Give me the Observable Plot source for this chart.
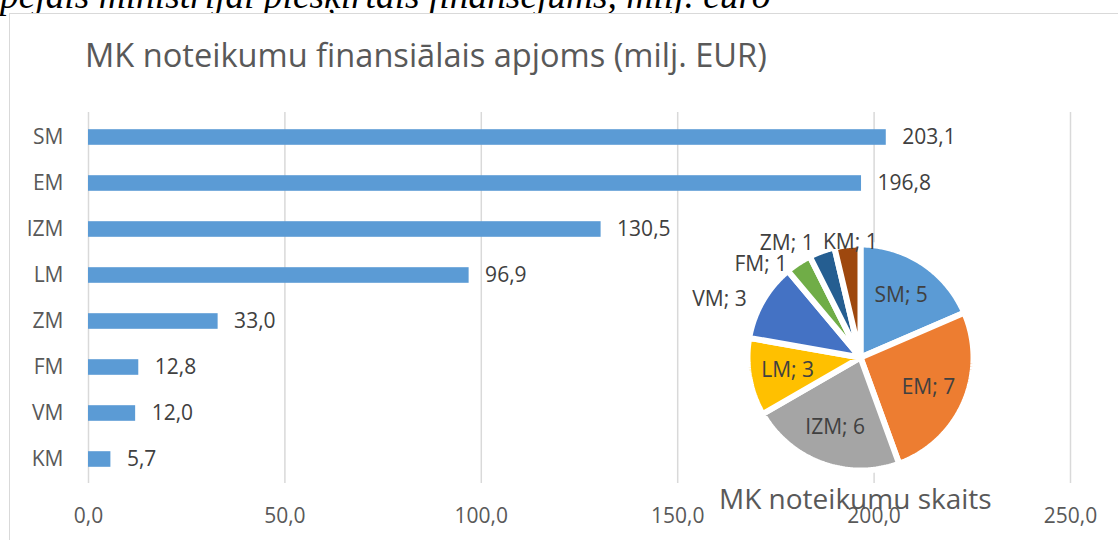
<!DOCTYPE html>
<html>
<head>
<meta charset="utf-8">
<script src="https://cdn.jsdelivr.net/npm/d3@7"></script>
<script src="https://cdn.jsdelivr.net/npm/@observablehq/plot@0.6"></script>
<style>
  html, body { margin: 0; padding: 0; background: #fff; }
  #wrap { position: relative; width: 1118px; height: 540px; overflow: hidden; }
  #header { position: absolute; left: 0; top: -23px; white-space: nowrap;
    font-family: "Liberation Serif", "Times New Roman", serif; font-style: italic;
    font-size: 37.4px; line-height: 37.4px; color: #000; }
  #box { position: absolute; left: 9px; top: 13px; width: 1200px; height: 600px;
    background: #fff; border: 1.5px solid #d9d9d9; }
  #title { position: absolute; left: 85px; top: 39px; white-space: nowrap;
    font-family: "Open Sans", sans-serif; font-size: 32.6px; line-height: 32.6px; color: #595959; }
  #pieTitle { position: absolute; left: 719px; top: 484px; white-space: nowrap;
    font-family: "Open Sans", sans-serif; font-size: 28px; line-height: 28px; color: #595959; z-index: 5; }
  #bars { position: absolute; left: 0; top: 0; }
  #pie { position: absolute; left: 660px; top: 187px; }
</style>
</head>
<body>
<div id="wrap">
  <div id="header">pējais ministrijai piešķirtais finansējums, milj. euro</div>
  <div id="box"></div>
  <div id="title">MK noteikumu finansiālais apjoms (milj. EUR)</div>
  <div id="bars"></div>
  <div id="pie"></div>
  <div id="pieTitle">MK noteikumu skaits</div>
</div>
<script>
// ---- data ----
const categories = ["SM", "EM", "IZM", "LM", "ZM", "FM", "VM", "KM"];
const amounts = [203.1, 196.8, 130.5, 96.9, 33.0, 12.8, 12.0, 5.7];
const xTicks = [0, 50, 100, 150, 200, 250];

const pieCategories = ["SM", "EM", "IZM", "LM", "VM", "FM", "ZM", "KM"];
const pieCounts = [5, 7, 6, 3, 3, 1, 1, 1];
const outsideLabels = ["VM", "FM", "ZM", "KM"];
const palette = ["#5B9BD5", "#ED7D31", "#A5A5A5", "#FFC000", "#4472C4", "#70AD47", "#255E91", "#9E480E"];

const fmt = d => d.toFixed(1).replace(".", ",");

// ---- bar chart ----
const barRows = categories.map((name, i) => ({name, value: amounts[i]}));
const bars = Plot.plot({
  width: 1118,
  height: 540,
  marginLeft: 88,
  marginRight: 48,
  marginTop: 112,
  marginBottom: 57,
  style: {fontFamily: "Open Sans, sans-serif", fontSize: "21px", color: "#595959", background: "transparent", overflow: "visible"},
  x: {domain: [0, 250]},
  y: {domain: categories, padding: 0},
  marks: [
    Plot.gridX(xTicks, {stroke: "#d9d9d9", strokeOpacity: 1, strokeWidth: 1.5}),
    Plot.axisX(xTicks, {tickSize: 0, tickPadding: 25, tickFormat: fmt, label: null, fill: "#595959"}),
    Plot.axisY({tickSize: 0, tickPadding: 25, label: null, fill: "#595959"}),
    Plot.barX(barRows, {x: "value", y: "name", fill: "#5B9BD5", insetTop: 15.2, insetBottom: 15.2}),
    Plot.text(barRows, {x: "value", y: "name", text: d => fmt(d.value), dx: 16, textAnchor: "start", fill: "#404040"})
  ]
});
document.getElementById("bars").append(bars);

// ---- pie chart ----
const R = 113;
const arcs = d3.pie().sort(null)(pieCounts);
const slicePts = [];
const labels = [];
arcs.forEach((a, i) => {
  const name = pieCategories[i];
  const N = 60;
  slicePts.push({name, x: 0, y: 0});
  for (let k = 0; k <= N; k++) {
    const t = a.startAngle + (a.endAngle - a.startAngle) * k / N;
    slicePts.push({name, x: R * Math.sin(t), y: -R * Math.cos(t)});
  }
  slicePts.push({name, x: 0, y: 0});
  const mid = (a.startAngle + a.endAngle) / 2;
  const outside = outsideLabels.includes(name);
  const kind = !outside ? "in" : (Math.sin(mid) < -0.3 ? "end" : "mid");
  const r = kind === "in" ? 74 : kind === "end" ? 128 : 122;
  labels.push({
    name, text: `${name}; ${pieCounts[i]}`,
    x: r * Math.sin(mid), y: -r * Math.cos(mid),
    kind
  });
});
// simple collision avoidance for the outside labels on the left: keep a minimum line gap
const leftLabels = labels.filter(d => d.kind === "end").sort((a, b) => a.y - b.y);
for (let i = 1; i < leftLabels.length; i++) {
  if (leftLabels[i].y < leftLabels[i - 1].y + 21) leftLabels[i].y = leftLabels[i - 1].y + 21;
}

const pie = Plot.plot({
  width: 400,
  height: 340,
  margin: 0,
  style: {fontFamily: "Open Sans, sans-serif", fontSize: "21px", background: "transparent", overflow: "visible"},
  x: {domain: [-200, 200], axis: null},
  y: {domain: [-170, 170], range: [0, 340], axis: null},
  color: {domain: pieCategories, range: palette},
  marks: [
    Plot.line(slicePts, {x: "x", y: "y", z: "name", fill: "name", stroke: "white", strokeWidth: 6, strokeLinejoin: "miter", curve: "linear"}),
    Plot.text(labels.filter(d => d.kind === "in"), {x: "x", y: "y", text: "text", fill: "#404040", textAnchor: "middle"}),
    Plot.text(labels.filter(d => d.kind === "end"), {x: "x", y: "y", text: "text", fill: "#404040", textAnchor: "end", dx: -3, dy: 6}),
    Plot.text(labels.filter(d => d.kind === "mid"), {x: "x", y: "y", text: "text", fill: "#404040", textAnchor: "middle", dx: 4, dy: 6})
  ]
});
document.getElementById("pie").append(pie);
</script>
</body>
</html>
